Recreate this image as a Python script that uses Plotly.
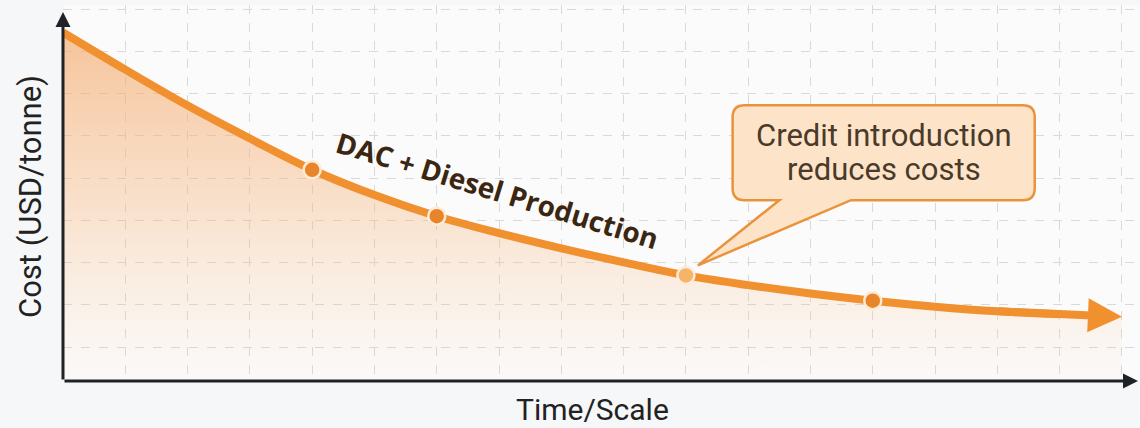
import plotly.graph_objects as go

# Cost trajectory over time/scale (arbitrary time steps, USD/tonne)
time = [0, 1, 2, 3, 4, 5, 6, 7, 8, 9, 10, 11, 12, 13, 14, 15, 16, 17]
cost = [825, 737, 652, 574, 500, 440, 390, 350, 314, 281, 250, 227, 207, 190, 176, 165, 158, 152]

# Highlighted milestones along the curve
milestone_time = [4, 6, 10, 13]
milestone_cost = [cost[time.index(t)] for t in milestone_time]
credit_time = 10  # point where the credit is introduced

curve_label = "DAC + Diesel Production"
callout_lines = ["Credit introduction", "reduces costs"]
x_title = "Time/Scale"
y_title = "Cost (USD/tonne)"

ORANGE = "#f0902f"
DARK = "#1f2328"

W, H = 1140, 428
ML, MR, MT, MB = 63, 0, 5, 47
X_RANGE = [0, 17.29]
Y_RANGE = [0, 890]
PW, PH = W - ML - MR, H - MT - MB
px_x = PW / (X_RANGE[1] - X_RANGE[0])
px_y = PH / (Y_RANGE[1] - Y_RANGE[0])

fig = go.Figure()

# Shaded area under the curve, fading toward the axis
fig.add_trace(go.Scatter(
    x=time, y=cost, mode="lines", line=dict(width=0, shape="spline"),
    fill="tozeroy",
    fillgradient=dict(
        type="vertical",
        colorscale=[[0, "rgba(250,205,165,0.04)"], [0.5, "rgba(246,182,128,0.38)"],
                    [1, "rgba(243,168,105,0.66)"]],
        start=0, stop=max(cost),
    ),
    hoverinfo="skip", showlegend=False,
))

# Main cost line (the final stretch is drawn as an arrow)
fig.add_trace(go.Scatter(
    x=time[:-1], y=cost[:-1], mode="lines",
    line=dict(color=ORANGE, width=8, shape="spline"),
    showlegend=False,
))

# Milestone markers
fig.add_trace(go.Scatter(
    x=milestone_time, y=milestone_cost, mode="markers",
    marker=dict(
        size=17,
        color=["#f6b46a" if t == credit_time else "#e8842a" for t in milestone_time],
        line=dict(color="#fdebd5", width=2.5),
    ),
    showlegend=False,
))

annotations = []

# Arrowhead finishing the cost line
annotations.append(dict(
    x=time[-1], y=cost[-1], ax=time[-3], ay=cost[-3],
    xref="x", yref="y", axref="x", ayref="y",
    showarrow=True, arrowhead=2, arrowsize=0.85, arrowwidth=8,
    arrowcolor=ORANGE, text="", standoff=0,
))

# Axis lines with arrowheads
annotations.append(dict(
    x=0, y=1 - 7 / PH, xref="paper", yref="paper",
    ax=0, ay=PH - 7, showarrow=True, arrowhead=2, arrowsize=1,
    arrowwidth=3, arrowcolor=DARK, text="",
))
annotations.append(dict(
    x=(1138 - ML) / PW, y=0, xref="paper", yref="paper",
    ax=-(1138 - ML), ay=0, showarrow=True, arrowhead=2, arrowsize=1,
    arrowwidth=3, arrowcolor=DARK, text="",
))

# Curve label
annotations.append(dict(
    x=6.97, y=452, xref="x", yref="y", text=f"<b>{curve_label}</b>",
    showarrow=False, textangle=17, xanchor="center", yanchor="middle",
    font=dict(family="Open Sans", size=28, color="#3b2612"),
))

# Callout box with a pointer tail toward the credit milestone
credit_cost = cost[time.index(credit_time)]
box_l, box_r = 10.75, 15.6
box_b, box_t = 428, 653
rx, ry = 12 / px_x, 12 / px_y
tail_l, tail_r = 11.5, 12.65
tip_x, tip_y = credit_time + 12 / px_x, credit_cost + 10 / px_y
path = (
    f"M {box_l + rx},{box_t} H {box_r - rx} Q {box_r},{box_t} {box_r},{box_t - ry} "
    f"V {box_b + ry} Q {box_r},{box_b} {box_r - rx},{box_b} "
    f"H {tail_r} L {tip_x},{tip_y} L {tail_l},{box_b} "
    f"H {box_l + rx} Q {box_l},{box_b} {box_l},{box_b + ry} "
    f"V {box_t - ry} Q {box_l},{box_t} {box_l + rx},{box_t} Z"
)
shapes = [dict(
    type="path", path=path, xref="x", yref="y", layer="above",
    fillcolor="#fde4c9", line=dict(color="#e9933c", width=2.5),
)]

# Callout text, one annotation per line for tight spacing
box_cx = (box_l + box_r) / 2
box_cy = (box_b + box_t) / 2
line_gap = 34 / px_y
for i, line in enumerate(callout_lines):
    annotations.append(dict(
        x=box_cx, y=box_cy + line_gap * (0.5 - i), xref="x", yref="y",
        text=line, showarrow=False, xanchor="center", yanchor="middle",
        font=dict(family="Roboto", size=31, color="#4a3a2a"),
    ))

# Axis titles
annotations.append(dict(
    x=(30 - ML) / PW, y=(H - MB - 197) / PH,
    xref="paper", yref="paper", text=y_title, showarrow=False, textangle=-90,
    xanchor="center", yanchor="middle",
    font=dict(family="Roboto", size=31, color="#222222"),
))
annotations.append(dict(
    x=(592 - ML) / PW, y=-(409 - (H - MB)) / PH,
    xref="paper", yref="paper", text=x_title, showarrow=False,
    xanchor="center", yanchor="middle",
    font=dict(family="Roboto", size=30, color="#222222"),
))

fig.update_layout(
    width=W, height=H,
    margin=dict(l=ML, r=MR, t=MT, b=MB),
    paper_bgcolor="#f6f7f8",
    plot_bgcolor="#fbfbfb",
    annotations=annotations,
    shapes=shapes,
    xaxis=dict(range=X_RANGE, showticklabels=False, ticks="", zeroline=False,
               showline=False, showgrid=True, gridcolor="#d9d9d9", griddash="dash",
               gridwidth=1, tick0=0, dtick=1, fixedrange=True),
    yaxis=dict(range=Y_RANGE, showticklabels=False, ticks="", zeroline=False,
               showline=False, showgrid=True, gridcolor="#d9d9d9", griddash="dash",
               gridwidth=1, tick0=80, dtick=100, fixedrange=True),
)

fig.write_html("out.html")
